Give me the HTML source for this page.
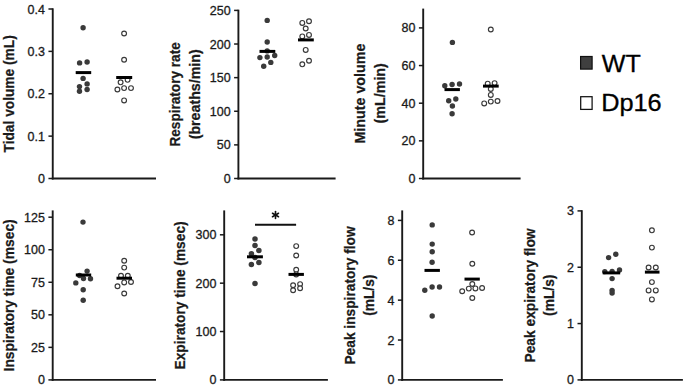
<!DOCTYPE html>
<html><head><meta charset="utf-8"><style>
html,body{margin:0;padding:0;background:#fff;}
svg{display:block;}
.tk{font-family:"Liberation Sans",sans-serif;font-size:12.5px;fill:#1a1a1a;stroke:#1a1a1a;stroke-width:0.3px;}
.lg{font-family:"Liberation Sans",sans-serif;fill:#000;stroke:#000;stroke-width:0.3px;}
.lb{font-family:"Liberation Sans",sans-serif;font-weight:bold;fill:#1a1a1a;stroke:#1a1a1a;stroke-width:0.25px;}
</style></head><body>
<svg width="685" height="389" viewBox="0 0 685 389">
<rect width="685" height="389" fill="#fff"/>
<line x1="52.75" y1="8.3" x2="52.75" y2="179.45" stroke="#1a1a1a" stroke-width="1.9"/>
<line x1="51.8" y1="178.5" x2="156.0" y2="178.5" stroke="#1a1a1a" stroke-width="1.9"/>
<line x1="48.45" y1="178.5" x2="52.75" y2="178.5" stroke="#1a1a1a" stroke-width="1.5"/>
<text x="44.95" y="183.0" text-anchor="end" class="tk">0</text>
<line x1="48.45" y1="136.125" x2="52.75" y2="136.125" stroke="#1a1a1a" stroke-width="1.5"/>
<text x="44.95" y="140.625" text-anchor="end" class="tk">0.1</text>
<line x1="48.45" y1="93.75" x2="52.75" y2="93.75" stroke="#1a1a1a" stroke-width="1.5"/>
<text x="44.95" y="98.25" text-anchor="end" class="tk">0.2</text>
<line x1="48.45" y1="51.375" x2="52.75" y2="51.375" stroke="#1a1a1a" stroke-width="1.5"/>
<text x="44.95" y="55.875" text-anchor="end" class="tk">0.3</text>
<line x1="48.45" y1="9.0" x2="52.75" y2="9.0" stroke="#1a1a1a" stroke-width="1.5"/>
<text x="44.95" y="13.5" text-anchor="end" class="tk">0.4</text>
<text transform="translate(14.0,152.49) rotate(-90)" class="lb" style="font-size:14.5px" textLength="117.27" lengthAdjust="spacingAndGlyphs">Tidal volume (mL)</text>
<circle cx="83.1" cy="27.7" r="2.7" fill="#3a3a3a"/>
<circle cx="79.6" cy="62.9" r="2.7" fill="#3a3a3a"/>
<circle cx="87.1" cy="62.0" r="2.7" fill="#3a3a3a"/>
<circle cx="83.1" cy="78.4" r="2.7" fill="#3a3a3a"/>
<circle cx="79.5" cy="86.6" r="2.7" fill="#3a3a3a"/>
<circle cx="87.1" cy="83.9" r="2.7" fill="#3a3a3a"/>
<circle cx="79.5" cy="91.3" r="2.7" fill="#3a3a3a"/>
<circle cx="87.1" cy="89.5" r="2.7" fill="#3a3a3a"/>
<circle cx="124.1" cy="33.5" r="2.4" fill="#fff" stroke="#3a3a3a" stroke-width="1.15"/>
<circle cx="124.1" cy="59.7" r="2.4" fill="#fff" stroke="#3a3a3a" stroke-width="1.15"/>
<circle cx="120.6" cy="82.3" r="2.4" fill="#fff" stroke="#3a3a3a" stroke-width="1.15"/>
<circle cx="127.6" cy="79.8" r="2.4" fill="#fff" stroke="#3a3a3a" stroke-width="1.15"/>
<circle cx="117.4" cy="89.5" r="2.4" fill="#fff" stroke="#3a3a3a" stroke-width="1.15"/>
<circle cx="124.1" cy="88.1" r="2.4" fill="#fff" stroke="#3a3a3a" stroke-width="1.15"/>
<circle cx="131.0" cy="88.1" r="2.4" fill="#fff" stroke="#3a3a3a" stroke-width="1.15"/>
<circle cx="124.1" cy="100.4" r="2.4" fill="#fff" stroke="#3a3a3a" stroke-width="1.15"/>
<line x1="75.7" y1="72.6" x2="91.2" y2="72.6" stroke="#000" stroke-width="3"/>
<line x1="116.2" y1="77.5" x2="132.2" y2="77.5" stroke="#000" stroke-width="3"/>
<line x1="238.4" y1="9.7" x2="238.4" y2="179.45" stroke="#1a1a1a" stroke-width="1.9"/>
<line x1="237.45000000000002" y1="178.5" x2="335.6" y2="178.5" stroke="#1a1a1a" stroke-width="1.9"/>
<line x1="234.1" y1="178.5" x2="238.4" y2="178.5" stroke="#1a1a1a" stroke-width="1.5"/>
<text x="230.6" y="183.0" text-anchor="end" class="tk">0</text>
<line x1="234.1" y1="144.88" x2="238.4" y2="144.88" stroke="#1a1a1a" stroke-width="1.5"/>
<text x="230.6" y="149.38" text-anchor="end" class="tk">50</text>
<line x1="234.1" y1="111.26" x2="238.4" y2="111.26" stroke="#1a1a1a" stroke-width="1.5"/>
<text x="230.6" y="115.76" text-anchor="end" class="tk">100</text>
<line x1="234.1" y1="77.64" x2="238.4" y2="77.64" stroke="#1a1a1a" stroke-width="1.5"/>
<text x="230.6" y="82.14" text-anchor="end" class="tk">150</text>
<line x1="234.1" y1="44.02000000000001" x2="238.4" y2="44.02000000000001" stroke="#1a1a1a" stroke-width="1.5"/>
<text x="230.6" y="48.52000000000001" text-anchor="end" class="tk">200</text>
<line x1="234.1" y1="10.400000000000006" x2="238.4" y2="10.400000000000006" stroke="#1a1a1a" stroke-width="1.5"/>
<text x="230.6" y="14.900000000000006" text-anchor="end" class="tk">250</text>
<text transform="translate(180.1,146.55) rotate(-90)" class="lb" style="font-size:14.5px" textLength="104.28" lengthAdjust="spacingAndGlyphs">Respiratory rate</text>
<text transform="translate(199.8,139.35) rotate(-90)" class="lb" style="font-size:14.5px" textLength="90.06" lengthAdjust="spacingAndGlyphs">(breaths/min)</text>
<circle cx="267.2" cy="20.4" r="2.7" fill="#3a3a3a"/>
<circle cx="267.2" cy="42.0" r="2.7" fill="#3a3a3a"/>
<circle cx="267.2" cy="50.9" r="2.7" fill="#3a3a3a"/>
<circle cx="259.9" cy="57.6" r="2.7" fill="#3a3a3a"/>
<circle cx="267.2" cy="57.0" r="2.7" fill="#3a3a3a"/>
<circle cx="274.7" cy="55.5" r="2.7" fill="#3a3a3a"/>
<circle cx="270.8" cy="62.4" r="2.7" fill="#3a3a3a"/>
<circle cx="263.7" cy="66.3" r="2.7" fill="#3a3a3a"/>
<circle cx="302.3" cy="22.9" r="2.4" fill="#fff" stroke="#3a3a3a" stroke-width="1.15"/>
<circle cx="309" cy="21.2" r="2.4" fill="#fff" stroke="#3a3a3a" stroke-width="1.15"/>
<circle cx="305.7" cy="28.5" r="2.4" fill="#fff" stroke="#3a3a3a" stroke-width="1.15"/>
<circle cx="302.3" cy="36.4" r="2.4" fill="#fff" stroke="#3a3a3a" stroke-width="1.15"/>
<circle cx="309" cy="34.9" r="2.4" fill="#fff" stroke="#3a3a3a" stroke-width="1.15"/>
<circle cx="305.7" cy="49.9" r="2.4" fill="#fff" stroke="#3a3a3a" stroke-width="1.15"/>
<circle cx="302.3" cy="64.3" r="2.4" fill="#fff" stroke="#3a3a3a" stroke-width="1.15"/>
<circle cx="309" cy="60.7" r="2.4" fill="#fff" stroke="#3a3a3a" stroke-width="1.15"/>
<line x1="259.5" y1="51.4" x2="275.3" y2="51.4" stroke="#000" stroke-width="3"/>
<line x1="298" y1="39.9" x2="313.8" y2="39.9" stroke="#000" stroke-width="3"/>
<line x1="423.2" y1="8.6" x2="423.2" y2="179.45" stroke="#1a1a1a" stroke-width="1.9"/>
<line x1="422.25" y1="178.5" x2="520.6" y2="178.5" stroke="#1a1a1a" stroke-width="1.9"/>
<line x1="418.9" y1="178.5" x2="423.2" y2="178.5" stroke="#1a1a1a" stroke-width="1.5"/>
<text x="415.4" y="183.0" text-anchor="end" class="tk">0</text>
<line x1="418.9" y1="140.85" x2="423.2" y2="140.85" stroke="#1a1a1a" stroke-width="1.5"/>
<text x="415.4" y="145.35" text-anchor="end" class="tk">20</text>
<line x1="418.9" y1="103.2" x2="423.2" y2="103.2" stroke="#1a1a1a" stroke-width="1.5"/>
<text x="415.4" y="107.7" text-anchor="end" class="tk">40</text>
<line x1="418.9" y1="65.55000000000001" x2="423.2" y2="65.55000000000001" stroke="#1a1a1a" stroke-width="1.5"/>
<text x="415.4" y="70.05000000000001" text-anchor="end" class="tk">60</text>
<line x1="418.9" y1="27.900000000000006" x2="423.2" y2="27.900000000000006" stroke="#1a1a1a" stroke-width="1.5"/>
<text x="415.4" y="32.400000000000006" text-anchor="end" class="tk">80</text>
<text transform="translate(365.1,143.54) rotate(-90)" class="lb" style="font-size:14.5px" textLength="99.89" lengthAdjust="spacingAndGlyphs">Minute volume</text>
<text transform="translate(384.5,123.6) rotate(-90)" class="lb" style="font-size:14.5px" textLength="60.5" lengthAdjust="spacingAndGlyphs">(mL/min)</text>
<circle cx="452.4" cy="42.4" r="2.7" fill="#3a3a3a"/>
<circle cx="444.8" cy="85.8" r="2.7" fill="#3a3a3a"/>
<circle cx="452.1" cy="84.5" r="2.7" fill="#3a3a3a"/>
<circle cx="459.5" cy="84.0" r="2.7" fill="#3a3a3a"/>
<circle cx="448.7" cy="100.7" r="2.7" fill="#3a3a3a"/>
<circle cx="455.8" cy="99.0" r="2.7" fill="#3a3a3a"/>
<circle cx="452.4" cy="106.0" r="2.7" fill="#3a3a3a"/>
<circle cx="452.1" cy="113.8" r="2.7" fill="#3a3a3a"/>
<circle cx="490.8" cy="29.5" r="2.4" fill="#fff" stroke="#3a3a3a" stroke-width="1.15"/>
<circle cx="487.7" cy="83.7" r="2.4" fill="#fff" stroke="#3a3a3a" stroke-width="1.15"/>
<circle cx="494.6" cy="83.1" r="2.4" fill="#fff" stroke="#3a3a3a" stroke-width="1.15"/>
<circle cx="490.8" cy="88.9" r="2.4" fill="#fff" stroke="#3a3a3a" stroke-width="1.15"/>
<circle cx="490.8" cy="94.9" r="2.4" fill="#fff" stroke="#3a3a3a" stroke-width="1.15"/>
<circle cx="484.2" cy="103.4" r="2.4" fill="#fff" stroke="#3a3a3a" stroke-width="1.15"/>
<circle cx="490.8" cy="101.6" r="2.4" fill="#fff" stroke="#3a3a3a" stroke-width="1.15"/>
<circle cx="497.5" cy="101.0" r="2.4" fill="#fff" stroke="#3a3a3a" stroke-width="1.15"/>
<line x1="444.5" y1="89.6" x2="459.9" y2="89.6" stroke="#000" stroke-width="3"/>
<line x1="483" y1="86.1" x2="498.7" y2="86.1" stroke="#000" stroke-width="3"/>
<line x1="52.7" y1="210.4" x2="52.7" y2="380.84999999999997" stroke="#1a1a1a" stroke-width="1.9"/>
<line x1="51.75" y1="379.9" x2="156.0" y2="379.9" stroke="#1a1a1a" stroke-width="1.9"/>
<line x1="48.400000000000006" y1="379.9" x2="52.7" y2="379.9" stroke="#1a1a1a" stroke-width="1.5"/>
<text x="44.900000000000006" y="384.4" text-anchor="end" class="tk">0</text>
<line x1="48.400000000000006" y1="347.35999999999996" x2="52.7" y2="347.35999999999996" stroke="#1a1a1a" stroke-width="1.5"/>
<text x="44.900000000000006" y="351.85999999999996" text-anchor="end" class="tk">25</text>
<line x1="48.400000000000006" y1="314.82" x2="52.7" y2="314.82" stroke="#1a1a1a" stroke-width="1.5"/>
<text x="44.900000000000006" y="319.32" text-anchor="end" class="tk">50</text>
<line x1="48.400000000000006" y1="282.28" x2="52.7" y2="282.28" stroke="#1a1a1a" stroke-width="1.5"/>
<text x="44.900000000000006" y="286.78" text-anchor="end" class="tk">75</text>
<line x1="48.400000000000006" y1="249.73999999999998" x2="52.7" y2="249.73999999999998" stroke="#1a1a1a" stroke-width="1.5"/>
<text x="44.900000000000006" y="254.23999999999998" text-anchor="end" class="tk">100</text>
<line x1="48.400000000000006" y1="217.2" x2="52.7" y2="217.2" stroke="#1a1a1a" stroke-width="1.5"/>
<text x="44.900000000000006" y="221.7" text-anchor="end" class="tk">125</text>
<text transform="translate(14.0,371.44) rotate(-90)" class="lb" style="font-size:14.5px" textLength="152.12" lengthAdjust="spacingAndGlyphs">Inspiratory time (msec)</text>
<circle cx="83.0" cy="222.1" r="2.7" fill="#3a3a3a"/>
<circle cx="87.1" cy="271.1" r="2.7" fill="#3a3a3a"/>
<circle cx="79.6" cy="275.5" r="2.7" fill="#3a3a3a"/>
<circle cx="83.5" cy="278.5" r="2.7" fill="#3a3a3a"/>
<circle cx="90.5" cy="278.8" r="2.7" fill="#3a3a3a"/>
<circle cx="75.8" cy="282.9" r="2.7" fill="#3a3a3a"/>
<circle cx="83.2" cy="289.7" r="2.7" fill="#3a3a3a"/>
<circle cx="83.2" cy="300.2" r="2.7" fill="#3a3a3a"/>
<circle cx="124.2" cy="260.8" r="2.4" fill="#fff" stroke="#3a3a3a" stroke-width="1.15"/>
<circle cx="124.2" cy="267.6" r="2.4" fill="#fff" stroke="#3a3a3a" stroke-width="1.15"/>
<circle cx="121" cy="275.8" r="2.4" fill="#fff" stroke="#3a3a3a" stroke-width="1.15"/>
<circle cx="127.8" cy="275.8" r="2.4" fill="#fff" stroke="#3a3a3a" stroke-width="1.15"/>
<circle cx="124.2" cy="282.4" r="2.4" fill="#fff" stroke="#3a3a3a" stroke-width="1.15"/>
<circle cx="131" cy="282" r="2.4" fill="#fff" stroke="#3a3a3a" stroke-width="1.15"/>
<circle cx="117.5" cy="286.2" r="2.4" fill="#fff" stroke="#3a3a3a" stroke-width="1.15"/>
<circle cx="124.2" cy="293.5" r="2.4" fill="#fff" stroke="#3a3a3a" stroke-width="1.15"/>
<line x1="75.8" y1="275" x2="91.2" y2="275" stroke="#000" stroke-width="3"/>
<line x1="116.5" y1="278.2" x2="132" y2="278.2" stroke="#000" stroke-width="3"/>
<line x1="224.2" y1="210.4" x2="224.2" y2="380.84999999999997" stroke="#1a1a1a" stroke-width="1.9"/>
<line x1="223.25" y1="379.9" x2="327.9" y2="379.9" stroke="#1a1a1a" stroke-width="1.9"/>
<line x1="219.89999999999998" y1="379.9" x2="224.2" y2="379.9" stroke="#1a1a1a" stroke-width="1.5"/>
<text x="216.39999999999998" y="384.4" text-anchor="end" class="tk">0</text>
<line x1="219.89999999999998" y1="331.5333333333333" x2="224.2" y2="331.5333333333333" stroke="#1a1a1a" stroke-width="1.5"/>
<text x="216.39999999999998" y="336.0333333333333" text-anchor="end" class="tk">100</text>
<line x1="219.89999999999998" y1="283.16666666666663" x2="224.2" y2="283.16666666666663" stroke="#1a1a1a" stroke-width="1.5"/>
<text x="216.39999999999998" y="287.66666666666663" text-anchor="end" class="tk">200</text>
<line x1="219.89999999999998" y1="234.8" x2="224.2" y2="234.8" stroke="#1a1a1a" stroke-width="1.5"/>
<text x="216.39999999999998" y="239.3" text-anchor="end" class="tk">300</text>
<text transform="translate(185.2,369.44) rotate(-90)" class="lb" style="font-size:14.5px" textLength="148.04" lengthAdjust="spacingAndGlyphs">Expiratory time (msec)</text>
<circle cx="255.0" cy="238.9" r="2.75" fill="#3a3a3a"/>
<circle cx="255.0" cy="245.4" r="2.75" fill="#3a3a3a"/>
<circle cx="258.9" cy="250.4" r="2.75" fill="#3a3a3a"/>
<circle cx="251.4" cy="253.8" r="2.75" fill="#3a3a3a"/>
<circle cx="255.0" cy="257.6" r="2.75" fill="#3a3a3a"/>
<circle cx="251.4" cy="264.6" r="2.75" fill="#3a3a3a"/>
<circle cx="258.9" cy="262.6" r="2.75" fill="#3a3a3a"/>
<circle cx="255.0" cy="283.5" r="2.75" fill="#3a3a3a"/>
<circle cx="296.2" cy="246.1" r="2.4" fill="#fff" stroke="#3a3a3a" stroke-width="1.15"/>
<circle cx="296.2" cy="255.5" r="2.4" fill="#fff" stroke="#3a3a3a" stroke-width="1.15"/>
<circle cx="296.2" cy="269.7" r="2.4" fill="#fff" stroke="#3a3a3a" stroke-width="1.15"/>
<circle cx="296.2" cy="274.4" r="2.4" fill="#fff" stroke="#3a3a3a" stroke-width="1.15"/>
<circle cx="293.1" cy="285.2" r="2.4" fill="#fff" stroke="#3a3a3a" stroke-width="1.15"/>
<circle cx="300.1" cy="284.1" r="2.4" fill="#fff" stroke="#3a3a3a" stroke-width="1.15"/>
<circle cx="300.1" cy="288.3" r="2.4" fill="#fff" stroke="#3a3a3a" stroke-width="1.15"/>
<circle cx="293.1" cy="290.3" r="2.4" fill="#fff" stroke="#3a3a3a" stroke-width="1.15"/>
<line x1="247" y1="256.8" x2="262.9" y2="256.8" stroke="#000" stroke-width="3"/>
<line x1="288.5" y1="274.4" x2="303.9" y2="274.4" stroke="#000" stroke-width="3"/>
<line x1="402.2" y1="210.4" x2="402.2" y2="380.84999999999997" stroke="#1a1a1a" stroke-width="1.9"/>
<line x1="401.25" y1="379.9" x2="502.9" y2="379.9" stroke="#1a1a1a" stroke-width="1.9"/>
<line x1="397.9" y1="379.9" x2="402.2" y2="379.9" stroke="#1a1a1a" stroke-width="1.5"/>
<text x="394.4" y="384.4" text-anchor="end" class="tk">0</text>
<line x1="397.9" y1="340.025" x2="402.2" y2="340.025" stroke="#1a1a1a" stroke-width="1.5"/>
<text x="394.4" y="344.525" text-anchor="end" class="tk">2</text>
<line x1="397.9" y1="300.15" x2="402.2" y2="300.15" stroke="#1a1a1a" stroke-width="1.5"/>
<text x="394.4" y="304.65" text-anchor="end" class="tk">4</text>
<line x1="397.9" y1="260.275" x2="402.2" y2="260.275" stroke="#1a1a1a" stroke-width="1.5"/>
<text x="394.4" y="264.775" text-anchor="end" class="tk">6</text>
<line x1="397.9" y1="220.4" x2="402.2" y2="220.4" stroke="#1a1a1a" stroke-width="1.5"/>
<text x="394.4" y="224.9" text-anchor="end" class="tk">8</text>
<text transform="translate(354.9,364.54) rotate(-90)" class="lb" style="font-size:14.5px" textLength="138.17" lengthAdjust="spacingAndGlyphs">Peak inspiratory flow</text>
<text transform="translate(373.9,315.85) rotate(-90)" class="lb" style="font-size:14.5px" textLength="41.24" lengthAdjust="spacingAndGlyphs">(mL/s)</text>
<circle cx="432.2" cy="224.9" r="2.7" fill="#3a3a3a"/>
<circle cx="432.2" cy="244.1" r="2.7" fill="#3a3a3a"/>
<circle cx="432.2" cy="251.7" r="2.7" fill="#3a3a3a"/>
<circle cx="432.1" cy="262.3" r="2.7" fill="#3a3a3a"/>
<circle cx="424.8" cy="290.3" r="2.7" fill="#3a3a3a"/>
<circle cx="432.1" cy="287" r="2.7" fill="#3a3a3a"/>
<circle cx="439.5" cy="287" r="2.7" fill="#3a3a3a"/>
<circle cx="432.2" cy="316" r="2.7" fill="#3a3a3a"/>
<circle cx="472.1" cy="232.5" r="2.4" fill="#fff" stroke="#3a3a3a" stroke-width="1.15"/>
<circle cx="472.3" cy="263.7" r="2.4" fill="#fff" stroke="#3a3a3a" stroke-width="1.15"/>
<circle cx="472.3" cy="284" r="2.4" fill="#fff" stroke="#3a3a3a" stroke-width="1.15"/>
<circle cx="462.2" cy="291.3" r="2.4" fill="#fff" stroke="#3a3a3a" stroke-width="1.15"/>
<circle cx="468.8" cy="288.6" r="2.4" fill="#fff" stroke="#3a3a3a" stroke-width="1.15"/>
<circle cx="475.4" cy="288.4" r="2.4" fill="#fff" stroke="#3a3a3a" stroke-width="1.15"/>
<circle cx="482.1" cy="288" r="2.4" fill="#fff" stroke="#3a3a3a" stroke-width="1.15"/>
<circle cx="472.3" cy="298" r="2.4" fill="#fff" stroke="#3a3a3a" stroke-width="1.15"/>
<line x1="424.5" y1="270.4" x2="439.9" y2="270.4" stroke="#000" stroke-width="3"/>
<line x1="464.5" y1="279.1" x2="479.8" y2="279.1" stroke="#000" stroke-width="3"/>
<line x1="581.8" y1="210.2" x2="581.8" y2="380.84999999999997" stroke="#1a1a1a" stroke-width="1.9"/>
<line x1="580.8499999999999" y1="379.9" x2="682.9" y2="379.9" stroke="#1a1a1a" stroke-width="1.9"/>
<line x1="577.5" y1="379.9" x2="581.8" y2="379.9" stroke="#1a1a1a" stroke-width="1.5"/>
<text x="574.0" y="384.4" text-anchor="end" class="tk">0</text>
<line x1="577.5" y1="323.56666666666666" x2="581.8" y2="323.56666666666666" stroke="#1a1a1a" stroke-width="1.5"/>
<text x="574.0" y="328.06666666666666" text-anchor="end" class="tk">1</text>
<line x1="577.5" y1="267.23333333333335" x2="581.8" y2="267.23333333333335" stroke="#1a1a1a" stroke-width="1.5"/>
<text x="574.0" y="271.73333333333335" text-anchor="end" class="tk">2</text>
<line x1="577.5" y1="210.9" x2="581.8" y2="210.9" stroke="#1a1a1a" stroke-width="1.5"/>
<text x="574.0" y="215.4" text-anchor="end" class="tk">3</text>
<text transform="translate(534.8,362.55) rotate(-90)" class="lb" style="font-size:14.5px" textLength="134.12" lengthAdjust="spacingAndGlyphs">Peak expiratory flow</text>
<text transform="translate(553.9,315.9) rotate(-90)" class="lb" style="font-size:14.5px" textLength="41.3" lengthAdjust="spacingAndGlyphs">(mL/s)</text>
<circle cx="615.8" cy="254.3" r="2.7" fill="#3a3a3a"/>
<circle cx="608.6" cy="257.6" r="2.7" fill="#3a3a3a"/>
<circle cx="604.8" cy="271.6" r="2.7" fill="#3a3a3a"/>
<circle cx="612.1" cy="271.4" r="2.7" fill="#3a3a3a"/>
<circle cx="619.5" cy="269.9" r="2.7" fill="#3a3a3a"/>
<circle cx="612.1" cy="278.6" r="2.7" fill="#3a3a3a"/>
<circle cx="612.1" cy="290.4" r="2.7" fill="#3a3a3a"/>
<circle cx="612.1" cy="293.1" r="2.7" fill="#3a3a3a"/>
<circle cx="651.9" cy="230.3" r="2.4" fill="#fff" stroke="#3a3a3a" stroke-width="1.15"/>
<circle cx="651.9" cy="247.6" r="2.4" fill="#fff" stroke="#3a3a3a" stroke-width="1.15"/>
<circle cx="648.6" cy="267.5" r="2.4" fill="#fff" stroke="#3a3a3a" stroke-width="1.15"/>
<circle cx="655.8" cy="267.5" r="2.4" fill="#fff" stroke="#3a3a3a" stroke-width="1.15"/>
<circle cx="651.9" cy="282.1" r="2.4" fill="#fff" stroke="#3a3a3a" stroke-width="1.15"/>
<circle cx="648.6" cy="290.4" r="2.4" fill="#fff" stroke="#3a3a3a" stroke-width="1.15"/>
<circle cx="655.8" cy="290.4" r="2.4" fill="#fff" stroke="#3a3a3a" stroke-width="1.15"/>
<circle cx="651.9" cy="299.4" r="2.4" fill="#fff" stroke="#3a3a3a" stroke-width="1.15"/>
<line x1="602.7" y1="272.9" x2="620.2" y2="272.9" stroke="#000" stroke-width="3"/>
<line x1="644.9" y1="272.1" x2="659.5" y2="272.1" stroke="#000" stroke-width="3"/>
<line x1="255" y1="224.8" x2="296.1" y2="224.8" stroke="#111" stroke-width="2"/>
<g stroke="#111" stroke-width="1.6" stroke-linecap="round"><line x1="275.5" y1="211.5" x2="275.5" y2="218.5"/><line x1="272.5" y1="213.25" x2="278.5" y2="216.75"/><line x1="272.5" y1="216.75" x2="278.5" y2="213.25"/></g>
<rect x="580.6" y="56.5" width="11.5" height="12.6" fill="#3f3f3f" stroke="#111" stroke-width="1.2"/>
<rect x="580.7" y="96.7" width="11.4" height="12.7" fill="#fff" stroke="#111" stroke-width="1.25"/>
<text x="601.8" y="71.8" class="lg" style="font-size:24.5px" textLength="39" lengthAdjust="spacingAndGlyphs">WT</text>
<text x="601.2" y="111.2" class="lg" style="font-size:23px" textLength="60.5" lengthAdjust="spacingAndGlyphs">Dp16</text>
</svg>
</body></html>
